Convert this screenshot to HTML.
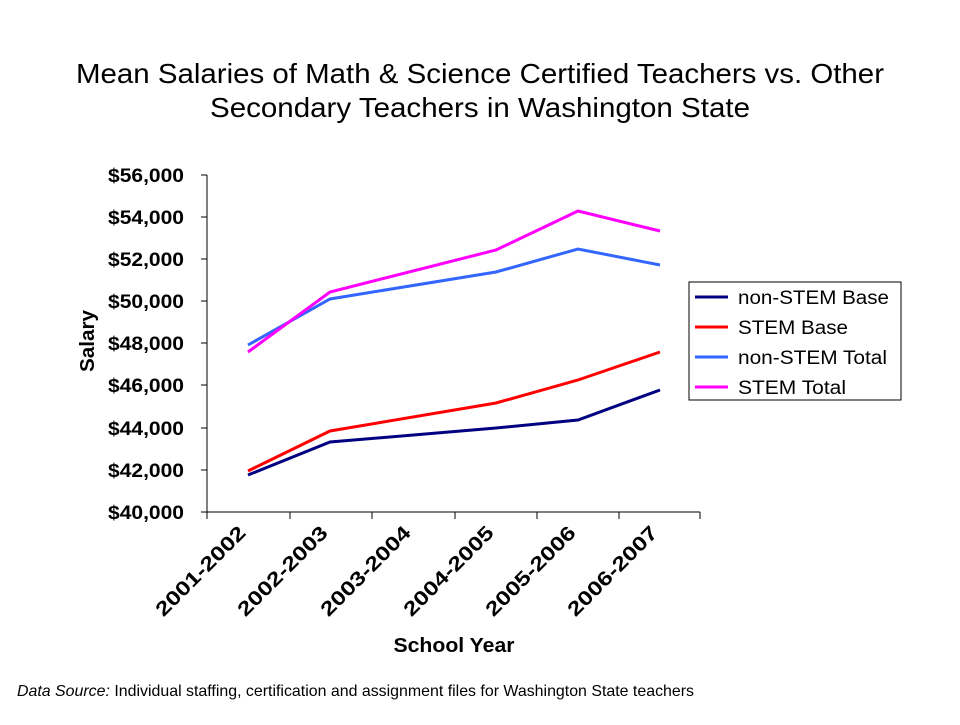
<!DOCTYPE html>
<html><head><style>body{margin:0;background:#fff}</style></head><body>
<svg width="960" height="720" xmlns="http://www.w3.org/2000/svg" font-family="Liberation Sans, Arial, sans-serif">
<rect width="960" height="720" fill="#fff"/>
<text x="480" y="83" font-size="28" text-anchor="middle" textLength="808" lengthAdjust="spacingAndGlyphs">Mean Salaries of Math &amp; Science Certified Teachers vs. Other</text>
<text x="480" y="117" font-size="28" text-anchor="middle" textLength="540" lengthAdjust="spacingAndGlyphs">Secondary Teachers in Washington State</text>
<g stroke="#000" stroke-width="1" fill="none">
<line x1="207" y1="175" x2="207" y2="512"/>
<line x1="207" y1="512" x2="700" y2="512"/>
<path d="M201 175H207M201 217H207M201 259H207M201 301H207M201 343H207M201 385H207M201 428H207M201 470H207M201 512H207"/>
<path d="M207 512V519M290 512V519M372 512V519M455 512V519M537 512V519M619 512V519M700 512V519"/>
</g>
<g font-size="19" font-weight="bold" text-anchor="end">
<text x="184" y="182" textLength="76" lengthAdjust="spacingAndGlyphs">$56,000</text><text x="184" y="224" textLength="76" lengthAdjust="spacingAndGlyphs">$54,000</text><text x="184" y="266" textLength="76" lengthAdjust="spacingAndGlyphs">$52,000</text>
<text x="184" y="308" textLength="76" lengthAdjust="spacingAndGlyphs">$50,000</text><text x="184" y="350" textLength="76" lengthAdjust="spacingAndGlyphs">$48,000</text><text x="184" y="392" textLength="76" lengthAdjust="spacingAndGlyphs">$46,000</text>
<text x="184" y="435" textLength="76" lengthAdjust="spacingAndGlyphs">$44,000</text><text x="184" y="477" textLength="76" lengthAdjust="spacingAndGlyphs">$42,000</text><text x="184" y="519" textLength="76" lengthAdjust="spacingAndGlyphs">$40,000</text>
</g>
<text transform="translate(94,341) rotate(-90)" font-size="20" font-weight="bold" text-anchor="middle" textLength="62" lengthAdjust="spacingAndGlyphs">Salary</text>
<g font-size="20" font-weight="bold" text-anchor="end">
<text transform="translate(247,534) rotate(-45)" textLength="118" lengthAdjust="spacingAndGlyphs">2001-2002</text>
<text transform="translate(329,534) rotate(-45)" textLength="118" lengthAdjust="spacingAndGlyphs">2002-2003</text>
<text transform="translate(412,534) rotate(-45)" textLength="118" lengthAdjust="spacingAndGlyphs">2003-2004</text>
<text transform="translate(495,534) rotate(-45)" textLength="118" lengthAdjust="spacingAndGlyphs">2004-2005</text>
<text transform="translate(577,534) rotate(-45)" textLength="118" lengthAdjust="spacingAndGlyphs">2005-2006</text>
<text transform="translate(659,534) rotate(-45)" textLength="118" lengthAdjust="spacingAndGlyphs">2006-2007</text>
</g>
<text x="454" y="652" font-size="20" font-weight="bold" text-anchor="middle" textLength="121" lengthAdjust="spacingAndGlyphs">School Year</text>
<g fill="none" stroke-width="3">
<polyline stroke="#000080" points="248,475 330,442 496,428 578,420 660,390"/>
<polyline stroke="#ff0000" points="248,471 330,431 496,403 578,380 660,352"/>
<polyline stroke="#3366ff" points="248,345 330,299 496,272 578,249 660,265"/>
<polyline stroke="#ff00ff" points="248,352 330,292 496,250 578,211 660,231"/>
</g>
<rect x="689" y="282" width="212" height="118" fill="#fff" stroke="#000"/>
<g stroke-width="3">
<line x1="695" y1="297" x2="728" y2="297" stroke="#000080"/>
<line x1="695" y1="327" x2="728" y2="327" stroke="#ff0000"/>
<line x1="695" y1="357" x2="728" y2="357" stroke="#3366ff"/>
<line x1="695" y1="387" x2="728" y2="387" stroke="#ff00ff"/>
</g>
<g font-size="19">
<text x="738" y="304" textLength="151" lengthAdjust="spacingAndGlyphs">non-STEM Base</text>
<text x="738" y="334" textLength="110" lengthAdjust="spacingAndGlyphs">STEM Base</text>
<text x="738" y="364" textLength="149" lengthAdjust="spacingAndGlyphs">non-STEM Total</text>
<text x="738" y="394" textLength="108" lengthAdjust="spacingAndGlyphs">STEM Total</text>
</g>
<text x="17" y="696" font-size="16" textLength="677" lengthAdjust="spacingAndGlyphs"><tspan font-style="italic">Data Source:</tspan> Individual staffing, certification and assignment files for Washington State teachers</text>
</svg>
</body></html>
